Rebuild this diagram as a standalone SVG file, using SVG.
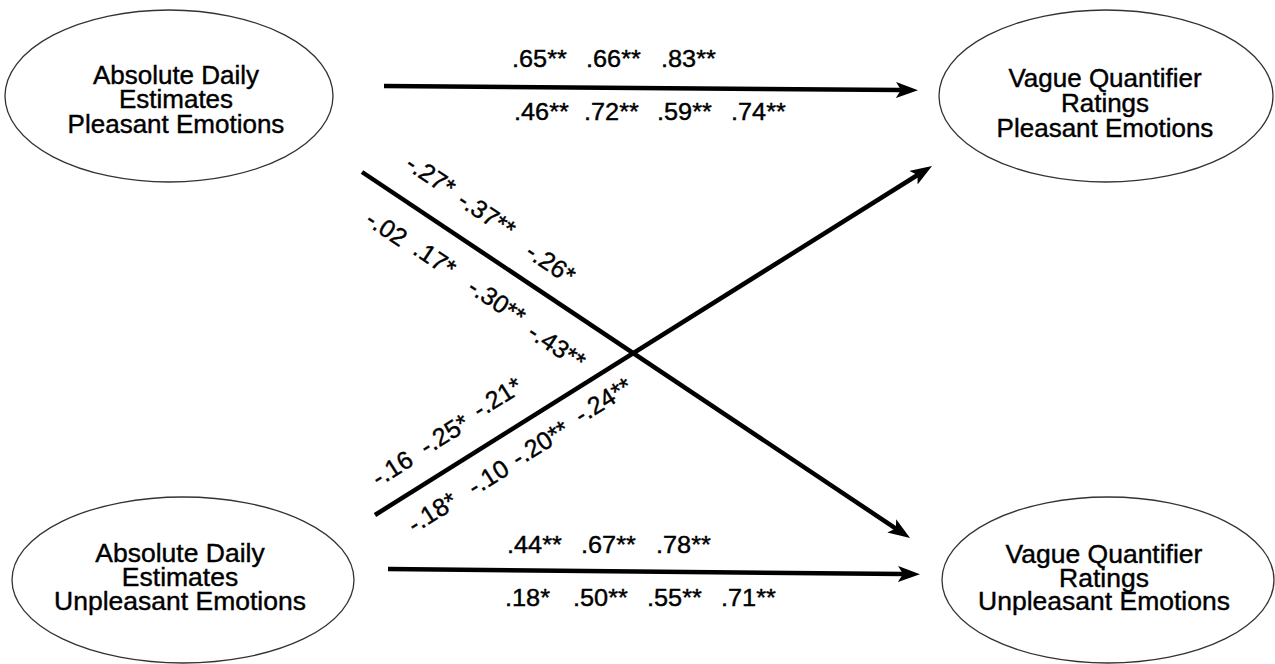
<svg xmlns="http://www.w3.org/2000/svg" width="1275" height="664" viewBox="0 0 1275 664">
<style>
.bg{fill:#ffffff}
.node ellipse{fill:none;stroke:#333333;stroke-width:1.3}
.lbl{font-family:"Liberation Sans",Arial,sans-serif;font-size:25px;fill:#000;stroke:#000;stroke-width:0.4;text-anchor:middle}
.num{font-family:"Liberation Sans",Arial,sans-serif;font-size:23px;fill:#000;stroke:#000;stroke-width:0.4}
.rot{font-family:"Liberation Sans",Arial,sans-serif;font-size:25px;fill:#000;stroke:#000;stroke-width:0.4;text-anchor:middle;dominant-baseline:central}
.edge{stroke:#000;stroke-width:4.5;fill:none;marker-end:url(#ah)}
</style>
<defs>
<marker id="ah" markerWidth="22" markerHeight="16" refX="5" refY="8" orient="auto" markerUnits="userSpaceOnUse">
<path d="M0,0 L22,8 L0,16 L5,8 z" fill="#000"/>
</marker>
</defs>
<rect class="bg" x="0" y="0" width="1275" height="664"/>

<g id="node-ade-pleasant" class="node">
<ellipse cx="169" cy="96" rx="164" ry="86"/>
<g transform="translate(176 0) scale(1.04 1)">
<text class="lbl" x="0" y="84">Absolute Daily</text>
<text class="lbl" x="0" y="108">Estimates</text>
<text class="lbl" x="0" y="133">Pleasant Emotions</text>
</g>
</g>

<g id="node-vqr-pleasant" class="node">
<ellipse cx="1106" cy="96" rx="167" ry="86"/>
<g transform="translate(1105 0) scale(1.04 1)">
<text class="lbl" x="0" y="87">Vague Quantifier</text>
<text class="lbl" x="0" y="112">Ratings</text>
<text class="lbl" x="0" y="137">Pleasant Emotions</text>
</g>
</g>

<g id="node-ade-unpleasant" class="node">
<ellipse cx="183" cy="580" rx="171" ry="83"/>
<g transform="translate(180 0) scale(1.06 1)">
<text class="lbl" x="0" y="562">Absolute Daily</text>
<text class="lbl" x="0" y="586">Estimates</text>
<text class="lbl" x="0" y="610">Unpleasant Emotions</text>
</g>
</g>

<g id="node-vqr-unpleasant" class="node">
<ellipse cx="1108" cy="580" rx="166" ry="83"/>
<g transform="translate(1104 0) scale(1.06 1)">
<text class="lbl" x="0" y="563">Vague Quantifier</text>
<text class="lbl" x="0" y="587">Ratings</text>
<text class="lbl" x="0" y="610">Unpleasant Emotions</text>
</g>
</g>

<g id="connectors">
<line class="edge" x1="384" y1="86" x2="901" y2="90"/>
<line class="edge" x1="388" y1="569" x2="903" y2="574"/>
<line class="edge" x1="362" y1="172" x2="895.9" y2="528.6"/>
<line class="edge" x1="375" y1="515" x2="917.6" y2="175"/>
</g>

<g id="labels-top">
<text class="num" transform="translate(512 67) scale(1.1 1)">.65**</text>
<text class="num" transform="translate(586 67) scale(1.1 1)">.66**</text>
<text class="num" transform="translate(661 67) scale(1.1 1)">.83**</text>
<text class="num" transform="translate(514 120) scale(1.1 1)">.46**</text>
<text class="num" transform="translate(584 120) scale(1.1 1)">.72**</text>
<text class="num" transform="translate(657 120) scale(1.1 1)">.59**</text>
<text class="num" transform="translate(731 120) scale(1.1 1)">.74**</text>
</g>

<g id="labels-bottom">
<text class="num" transform="translate(507 553) scale(1.1 1)">.44**</text>
<text class="num" transform="translate(581 553) scale(1.1 1)">.67**</text>
<text class="num" transform="translate(656 553) scale(1.1 1)">.78**</text>
<text class="num" transform="translate(505 606) scale(1.1 1)">.18*</text>
<text class="num" transform="translate(573 606) scale(1.1 1)">.50**</text>
<text class="num" transform="translate(647 606) scale(1.1 1)">.55**</text>
<text class="num" transform="translate(721 606) scale(1.1 1)">.71**</text>
</g>

<g id="labels-diag1">
<text class="rot" transform="translate(431 175) rotate(33.7)">-.27*</text>
<text class="rot" transform="translate(487 214) rotate(33.7)">-.37**</text>
<text class="rot" transform="translate(551 263) rotate(33.7)">-.26*</text>
<text class="rot" transform="translate(387 228) rotate(33.7)">-.02</text>
<text class="rot" transform="translate(435 258) rotate(33.7)">.17*</text>
<text class="rot" transform="translate(497 301) rotate(33.7)">-.30**</text>
<text class="rot" transform="translate(557 346) rotate(33.7)">-.43**</text>
</g>

<g id="labels-diag2">
<text class="rot" transform="translate(392 468) rotate(-32.1)">-.16</text>
<text class="rot" transform="translate(444 434) rotate(-32.1)">-.25*</text>
<text class="rot" transform="translate(497 397) rotate(-32.1)">-.21*</text>
<text class="rot" transform="translate(432 512) rotate(-32.1)">-.18*</text>
<text class="rot" transform="translate(488 477) rotate(-32.1)">-.10</text>
<text class="rot" transform="translate(540 443) rotate(-32.1)">-.20**</text>
<text class="rot" transform="translate(603 400) rotate(-32.1)">-.24**</text>
</g>
</svg>
